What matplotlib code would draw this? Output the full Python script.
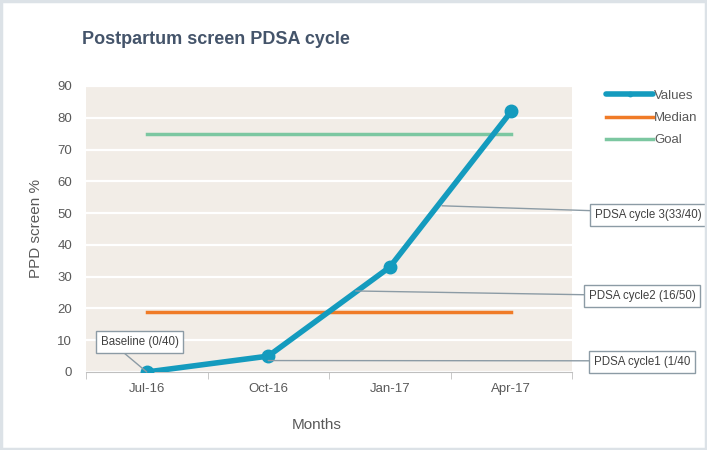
import numpy as np
import matplotlib
matplotlib.use("Agg")
import matplotlib.pyplot as plt

months = ["Jul-16", "Oct-16", "Jan-17", "Apr-17"]
values = [0, 5, 33, 82]
median = [19, 19, 19, 19]
goal = [75, 75, 75, 75]

# annotation text, point on the line (x, y in data), box position (figure px from top-left)
notes = ["Baseline (0/40)", "PDSA cycle1 (1/40", "PDSA cycle2 (16/50)", "PDSA cycle 3(33/40)"]
note_xy = [(0.0, 0.0), (1.0, 3.6), (1.72, 25.5), (2.43, 52.3)]
note_box = [(101, 342), (594, 362), (589, 296), (595, 215)]
note_rel = [(0.22, 0.0), (0.0, 0.6), (0.0, 0.6), (0.0, 0.85)]

plt.rcParams['font.family'] = ['Liberation Sans', 'DejaVu Sans']
txt = "#595959"

fig = plt.figure(figsize=(7.07, 4.5), dpi=100)
fig.patch.set_facecolor("white")
ax = fig.add_axes([86/707, 1-372/450, 486/707, 286/450])
ax.set_facecolor("#F2EDE7")

x = np.arange(len(months))
ax.plot(x, values, color="#149BBE", lw=4, marker="o", ms=9, label="Values", zorder=4, solid_capstyle="round")
ax.plot(x, median, color="#F07B27", lw=2.5, label="Median", zorder=3)
ax.plot(x, goal, color="#7CC7A1", lw=2.5, label="Goal", zorder=3)

ax.set_xlim(-0.5, 3.5)
ax.set_ylim(0, 90)
ax.set_yticks(range(0, 91, 10))
ax.yaxis.grid(True, color="white", lw=1.6)
ax.set_axisbelow(True)
ax.set_xticks(x)
ax.set_xticklabels(months)
ax.set_xticks(np.arange(-0.5, 4, 1), minor=True)
ax.tick_params(axis="x", which="major", length=0, pad=8, labelsize=9.5, labelcolor=txt)
ax.tick_params(axis="x", which="minor", length=5, color="#BFBFBF", direction="out")
ax.tick_params(axis="y", length=0, pad=10, labelsize=9.5, labelcolor=txt)
for s in ["top", "right", "left"]:
    ax.spines[s].set_visible(False)
ax.spines["bottom"].set_color("#BFBFBF")

ax.set_ylabel("PPD screen %", fontsize=11, color=txt, labelpad=10)
fig.text(317/707, 1-425/450, "Months", fontsize=11, color=txt, ha="center", va="center")
fig.text(82/707, 1-40/450, "Postpartum screen PDSA cycle", fontsize=13, fontweight="bold",
         color="#44546A", ha="left", va="center")

for t, xy, bx, rp in zip(notes, note_xy, note_box, note_rel):
    ax.annotate(t, xy=xy, xycoords="data", xytext=(bx[0], 450 - bx[1]), textcoords="figure pixels",
                ha="left", va="center", fontsize=8.3, color="#404040",
                bbox=dict(boxstyle="square,pad=0.4", fc="white", ec="#8C9BA5", lw=1),
                arrowprops=dict(arrowstyle="-", color="#8C9BA5", lw=1, shrinkA=0, shrinkB=0, relpos=rp),
                annotation_clip=False, zorder=5)

leg = fig.legend(loc="upper left", bbox_to_anchor=(594/707, 1-78/450), frameon=False,
                 fontsize=9.5, labelcolor=txt, handlelength=3.6, handletextpad=0.05,
                 labelspacing=0.75, markerscale=0.35)

# light border round the figure
fig.patches.append(plt.Rectangle((0.002, 0.003), 0.996, 0.994, transform=fig.transFigure,
                                 fill=False, ec="#DCE2E7", lw=2.5))

fig.savefig("out.png", dpi=100)
